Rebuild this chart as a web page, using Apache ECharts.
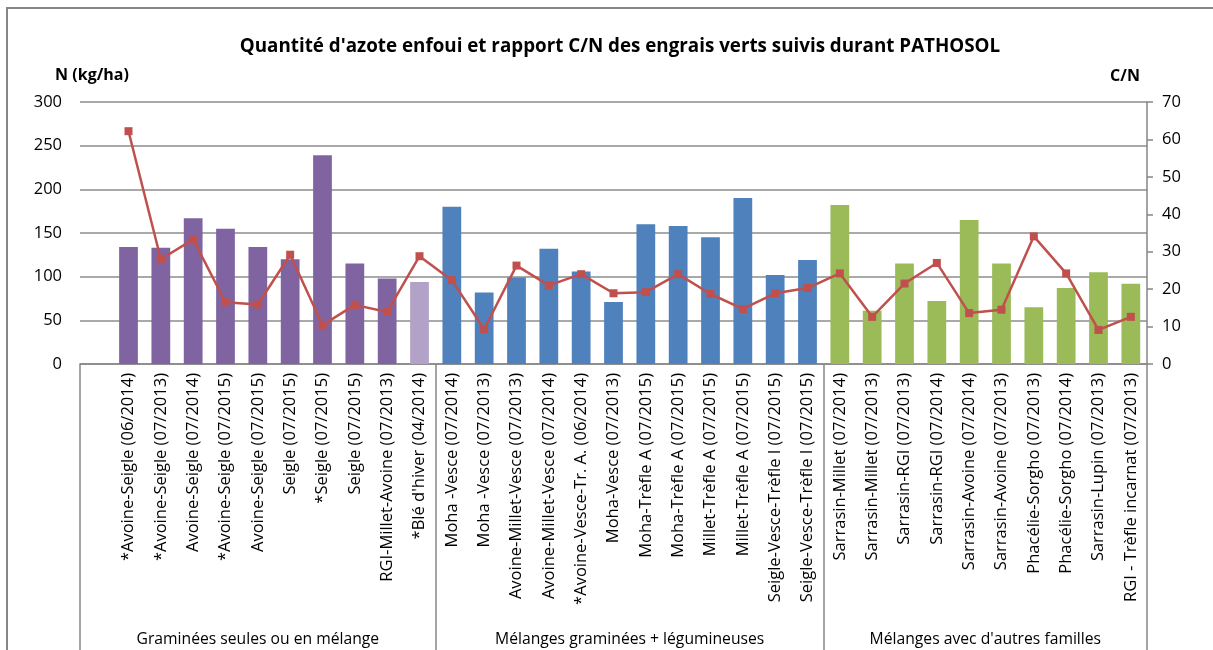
<!DOCTYPE html>
<html lang="fr">
<head>
<meta charset="utf-8">
<title>Quantité d'azote enfoui et rapport C/N</title>
<script src="https://cdn.jsdelivr.net/npm/echarts@6.0.0/dist/echarts.min.js"></script>
<style>
  html, body { margin: 0; padding: 0; background: #fff; }
  #chart { width: 1213px; height: 650px; }
</style>
</head>
<body>
<div id="chart"></div>
<script>
// engrais verts suivis, dans l'ordre du graphique
const categories = [
  '*Avoine-Seigle (06/2014)', '*Avoine-Seigle (07/2013)', 'Avoine-Seigle (07/2014)',
  '*Avoine-Seigle (07/2015)', 'Avoine-Seigle (07/2015)', 'Seigle (07/2015)',
  '*Seigle (07/2015)', 'Seigle (07/2015)', 'RGI-Millet-Avoine (07/2013)', "*Blé d'hiver (04/2014)",
  'Moha -Vesce (07/2014)', 'Moha -Vesce (07/2013)', 'Avoine-Millet-Vesce (07/2013)',
  'Avoine-Millet-Vesce (07/2014)', '*Avoine-Vesce-Tr. A. (06/2014)', 'Moha-Vesce (07/2013)',
  'Moha-Trèfle A (07/2015)', 'Moha-Trèfle A (07/2015)', 'Millet-Trèfle A (07/2015)',
  'Millet-Trèfle A (07/2015)', 'Seigle-Vesce-Trèfle I (07/2015)', 'Seigle-Vesce-Trèfle I (07/2015)',
  'Sarrasin-Millet (07/2014)', 'Sarrasin-Millet (07/2013)', 'Sarrasin-RGI (07/2013)',
  'Sarrasin-RGI (07/2014)', 'Sarrasin-Avoine (07/2014)', 'Sarrasin-Avoine (07/2013)',
  'Phacélie-Sorgho (07/2013)', 'Phacélie-Sorgho (07/2014)', 'Sarrasin-Lupin (07/2013)',
  'RGI - Trèfle incarnat (07/2013)'
]

// N enfoui (kg/ha)
const nitrogen = [
  134, 133, 167, 155, 134, 120, 239, 115, 98, 94,
  180, 82, 99, 132, 106, 71, 160, 158, 145, 190, 102, 119,
  182, 61, 115, 72, 165, 115, 65, 87, 105, 92
]

// rapport C/N
const cnRatio = [
  62.2, 28.0, 33.3, 16.5, 15.9, 29.2, 10.4, 15.8, 13.9, 28.8,
  22.4, 9.3, 26.3, 21.0, 24.0, 18.9, 19.2, 24.0, 18.7, 14.7, 18.9, 20.3,
  24.2, 12.6, 21.5, 27.0, 13.6, 14.5, 34.1, 24.2, 9.1, 12.6
]

const groupNames = ['Graminées seules ou en mélange', 'Mélanges graminées + légumineuses', "Mélanges avec d'autres familles"]
const groupSizes = [10, 12, 10]

const nTicks = [0, 50, 100, 150, 200, 250, 300]
const cnTicks = [0, 10, 20, 30, 40, 50, 60, 70]

const groupColors = ['#8064A2', '#4F81BD', '#9BBB59']
const paleBars = [9] // Blé d'hiver en violet clair
const FONT = '"Open Sans", sans-serif'
const GRID = { left: 80, right: 66, top: 102, bottom: 286 }

const chart = echarts.init(document.getElementById('chart'))

// Excel laisse une case vide avant la première catégorie
const slots = [''].concat(categories)
const band = (1213 - GRID.left - GRID.right) / slots.length

const groupOf = []
const groupStarts = []
let pos = 1
groupSizes.forEach((n, g) => {
  groupStarts.push(pos)
  for (let k = 0; k < n; k++) groupOf.push(g)
  pos += n
})

const barData = [null].concat(nitrogen.map((v, i) => ({
  value: v,
  itemStyle: { color: paleBars.includes(i) ? '#B3A2C7' : groupColors[groupOf[i]] }
})))
const lineData = [null].concat(cnRatio)

const groupLabels = groupNames.map((name, g) => {
  const from = g === 0 ? 0 : groupStarts[g]
  const to = groupStarts[g] + groupSizes[g]
  return {
    type: 'text',
    x: GRID.left + band * (from + to) / 2,
    y: 640,
    style: {
      text: name, font: '15.7px ' + FONT, fill: '#000',
      align: 'center', verticalAlign: 'middle'
    }
  }
})

chart.setOption({
  animation: false,
  title: {
    text: "Quantité d'azote enfoui et rapport C/N des engrais verts suivis durant PATHOSOL",
    left: 615,
    textAlign: 'center',
    top: 32,
    textStyle: { fontFamily: FONT, fontSize: 18.8, fontWeight: 'bold', color: '#000' }
  },
  grid: GRID,
  graphic: [
    {
      type: 'rect', silent: true,
      shape: { x: 7, y: 8, width: 1230, height: 700 },
      style: { fill: null, stroke: '#868686', lineWidth: 2 }
    },
    {
      type: 'text', x: 92, y: 75,
      style: { text: 'N (kg/ha)', font: 'bold 16px ' + FONT, fill: '#000', align: 'center', verticalAlign: 'middle' }
    },
    {
      type: 'text', x: 1125, y: 76,
      style: { text: 'C/N', font: 'bold 16px ' + FONT, fill: '#000', align: 'center', verticalAlign: 'middle' }
    }
  ].concat(groupLabels),
  xAxis: {
    type: 'category',
    data: slots,
    axisLine: { lineStyle: { color: '#868686', width: 1.5 } },
    axisTick: {
      show: true,
      length: 290,
      interval: (index) => index === 0 || groupStarts.slice(1).includes(index),
      lineStyle: { color: '#868686', width: 1.5 }
    },
    axisLabel: {
      interval: 0,
      rotate: 90,
      margin: 9,
      fontFamily: FONT,
      fontSize: 16.5,
      color: '#000'
    }
  },
  yAxis: [
    {
      type: 'value',
      min: nTicks[0],
      max: nTicks[nTicks.length - 1],
      interval: nTicks[1] - nTicks[0],
      axisLine: { show: false },
      axisTick: { show: false },
      axisLabel: { margin: 18, fontFamily: FONT, fontSize: 16.5, color: '#000' },
      splitLine: { lineStyle: { color: '#8c8c8c', width: 1.5 } }
    },
    {
      type: 'value',
      min: cnTicks[0],
      max: cnTicks[cnTicks.length - 1],
      interval: cnTicks[1] - cnTicks[0],
      axisLine: { show: true, lineStyle: { color: '#868686', width: 1.5 } },
      axisTick: { show: true, length: 6, lineStyle: { color: '#868686', width: 1.5 } },
      axisLabel: { margin: 15, fontFamily: FONT, fontSize: 16.5, color: '#000' },
      splitLine: { show: false }
    }
  ],
  series: [
    {
      name: 'N (kg/ha)',
      type: 'bar',
      barWidth: '58%',
      data: barData
    },
    {
      name: 'C/N',
      type: 'line',
      yAxisIndex: 1,
      data: lineData,
      symbol: 'rect',
      symbolSize: 8,
      connectNulls: false,
      lineStyle: { color: '#C0504D', width: 2.5 },
      itemStyle: { color: '#C0504D' }
    }
  ]
})
</script>
</body>
</html>
